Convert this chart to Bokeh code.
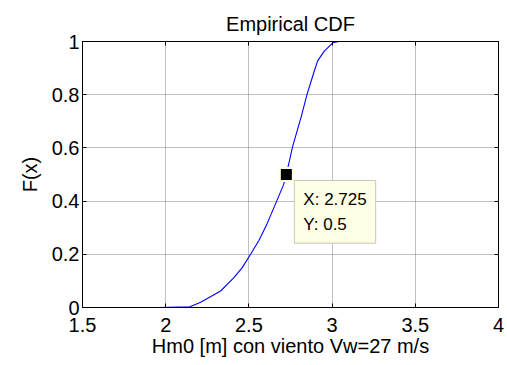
from bokeh.plotting import figure
from bokeh.models import Range1d, LinearAxis, Label, FixedTicker
from bokeh.embed import file_html
from bokeh.resources import INLINE

# Empirical CDF values
cdf_x = [1.955, 2.145, 2.21, 2.33, 2.41, 2.46, 2.51, 2.56, 2.603, 2.633, 2.667,
         2.709, 2.725, 2.763, 2.813, 2.849, 2.893, 2.913, 2.953, 3.004, 3.04, 3.585]
cdf_f = [0.0, 0.003, 0.02, 0.062, 0.112, 0.15, 0.2, 0.252, 0.306, 0.35, 0.4,
         0.463, 0.5, 0.606, 0.714, 0.80, 0.889, 0.927, 0.964, 0.995, 1.0, 1.0]

x_ticks = [1.5, 2, 2.5, 3, 3.5, 4]
x_tick_labels = ["1.5", "2", "2.5", "3", "3.5", "4"]
y_ticks = [0, 0.2, 0.4, 0.6, 0.8, 1]
y_tick_labels = ["0", "0.2", "0.4", "0.6", "0.8", "1"]

tip_x = 2.725
tip_y = 0.5
tip_text = "X: 2.725\nY: 0.5"

FONT = "Liberation Sans"

p = figure(width=505, height=360, output_backend="svg", toolbar_location=None,
           x_range=Range1d(1.5, 4), y_range=Range1d(0, 1),
           title="Empirical CDF",
           min_border_left=82, min_border_right=7, min_border_top=41, min_border_bottom=53)

p.background_fill_color = "white"
p.border_fill_color = "white"
p.outline_line_color = "black"
p.outline_line_width = 1

p.title.align = "center"
p.title.text_font = FONT
p.title.text_font_size = "20px"
p.title.text_font_style = "normal"
p.title.text_color = "black"
p.title.standoff = 13

p.xaxis.axis_label = "Hm0 [m] con viento Vw=27 m/s"
p.yaxis.axis_label = "F(x)"

for ax, ticks, labels in ((p.xaxis[0], x_ticks, x_tick_labels), (p.yaxis[0], y_ticks, y_tick_labels)):
    ax.ticker = FixedTicker(ticks=ticks)
    ax.major_label_overrides = {t: l for t, l in zip(ticks, labels)}
    ax.major_label_text_font = FONT
    ax.major_label_text_font_size = "20px"
    ax.major_label_text_color = "black"
    ax.axis_label_text_font = FONT
    ax.axis_label_text_font_size = "20px"
    ax.axis_label_text_font_style = "normal"
    ax.axis_label_text_color = "black"
    ax.axis_line_color = "black"
    ax.major_tick_in = 4
    ax.major_tick_out = 0
    ax.major_tick_line_color = "black"
    ax.minor_tick_line_color = None

p.xaxis[0].major_label_standoff = 10
p.xaxis[0].axis_label_standoff = 0
p.yaxis[0].major_label_standoff = 3
p.yaxis[0].axis_label_standoff = 8

top_axis = LinearAxis(ticker=FixedTicker(ticks=x_ticks),
                      major_label_overrides={t: "" for t in x_ticks},
                      major_label_standoff=0, major_tick_in=4, major_tick_out=0,
                      minor_tick_line_color=None, axis_line_color="black")
right_axis = LinearAxis(ticker=FixedTicker(ticks=y_ticks),
                        major_label_overrides={t: "" for t in y_ticks},
                        major_label_standoff=0, major_tick_in=4, major_tick_out=0,
                        minor_tick_line_color=None, axis_line_color="black")
p.add_layout(top_axis, "above")
p.add_layout(right_axis, "right")

p.xgrid.ticker = FixedTicker(ticks=x_ticks)
p.ygrid.ticker = FixedTicker(ticks=y_ticks)
p.grid.grid_line_color = "#808080"
p.grid.grid_line_dash = "1 1"
p.grid.grid_line_width = 1

p.line(cdf_x, cdf_f, line_color="#0000FF", line_width=1.1)

p.scatter([tip_x], [tip_y], marker="square", size=13, fill_color="black",
          line_color="#FFFFE0", line_width=2)

tip = Label(x=tip_x, y=tip_y, x_offset=8, y_offset=-6, text=tip_text,
            text_align="left", text_baseline="top",
            text_font=FONT, text_font_size="17px", text_color="black",
            text_line_height=1.35,
            background_fill_color="#FFFFE5", border_line_color="#C8C8B4",
            padding=9)
p.add_layout(tip)

open("out.html", "w").write(file_html(p, INLINE))
